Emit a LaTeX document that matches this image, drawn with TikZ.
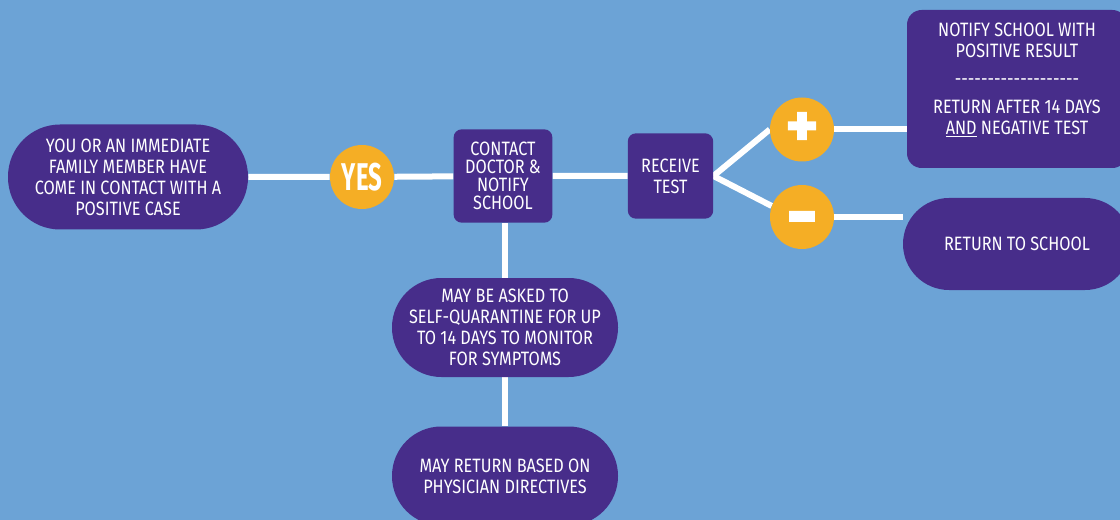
\documentclass[tikz,border=0pt]{standalone}
\usepackage{fontspec}
\setmainfont{Fira Sans}[FakeStretch=0.84]
\newfontfamily\signfont{Fira Sans}[FakeStretch=0.62]
\newfontfamily\markfont{Fira Sans}[FakeBold=2.5]
\usetikzlibrary{backgrounds}
\definecolor{sky}{HTML}{6CA3D6}
\definecolor{grape}{HTML}{472D8A}
\definecolor{mango}{HTML}{F5AE25}
\newcommand\dashrow{\foreach\i in {1,...,19}{-\kern0pt}}

\begin{document}
\begin{tikzpicture}[x=0.75pt,y=-0.75pt,
    box/.style={fill=grape, text=white, align=center, inner sep=0pt,
        font=\fontsize{14.5}{15.8}\selectfont},
    pill/.style={box, minimum height=74.25pt, rounded corners=37pt},
    tile/.style={box, rounded corners=6pt},
    sign/.style={circle, fill=mango, text=white, minimum size=48pt, inner sep=0pt,
        font=\signfont\bfseries\fontsize{29}{29}\selectfont},
    link/.style={white, line width=4.5pt}]
    \useasboundingbox (0,0) rectangle (1120,520);

    % main row
    \node[pill, minimum width=180pt, minimum height=78.75pt, rounded corners=39pt] (start) at (128,177)
        {YOU OR AN IMMEDIATE\\FAMILY MEMBER HAVE\\COME IN CONTACT WITH A\\POSITIVE CASE};
    \node[sign] (yes) at (362,177) {YES};
    \node[tile, minimum width=74pt, minimum height=70pt, font=\fontsize{14.5}{13.6}\selectfont] (doctor) at (503,176)
        {CONTACT\\DOCTOR \&\\NOTIFY\\SCHOOL};
    \node[tile, minimum size=64pt] (receive) at (670.5,176) {RECEIVE\\TEST};

    % test results
    \node[sign, font=\markfont\bfseries\fontsize{46}{46}\selectfont] (plus) at (802,129.5) {+};
    \node[sign, font=\markfont\bfseries\fontsize{56}{56}\selectfont] (minus) at (802,217) {\raisebox{-17pt}[0pt][0pt]{-}};
    \node[tile, rounded corners=11pt, minimum width=165pt, minimum height=118.5pt] (notify) at (1017,89) {};
    \node[box, fill=none] (notifytext) at (1017,80)
        {NOTIFY SCHOOL WITH\\POSITIVE RESULT\\[5pt]\dashrow\\[5pt]RETURN AFTER 14 DAYS\\\underline{AND} NEGATIVE TEST};
    \node[pill, minimum width=171pt, minimum height=69pt, rounded corners=34.5pt] (back) at (1017,244)
        {RETURN TO SCHOOL};

    % quarantine column
    \node[pill, minimum width=169.5pt] (quarantine) at (505,327.5)
        {MAY BE ASKED TO\\SELF-QUARANTINE FOR UP\\TO 14 DAYS TO MONITOR\\FOR SYMPTOMS};
    \node[pill, minimum width=169.5pt] (physician) at (505,476)
        {MAY RETURN BASED ON\\PHYSICIAN DIRECTIVES};

    \begin{pgfonlayer}{background}
    \fill[sky] (0,0) rectangle (1120,520);
    \draw[link] (start) -- (yes) -- (doctor) -- (receive);
    \draw[link] (doctor.south -| quarantine) -- (quarantine) -- (physician);
    \draw[link] (receive.east) -- (plus.west);
    \draw[link] (receive.east) -- (minus.160);
    \draw[link] (plus) -- (plus -| notify.west);
    \draw[link] (minus) -- (minus -| back.west);
    \end{pgfonlayer}
\end{tikzpicture}
\end{document}
